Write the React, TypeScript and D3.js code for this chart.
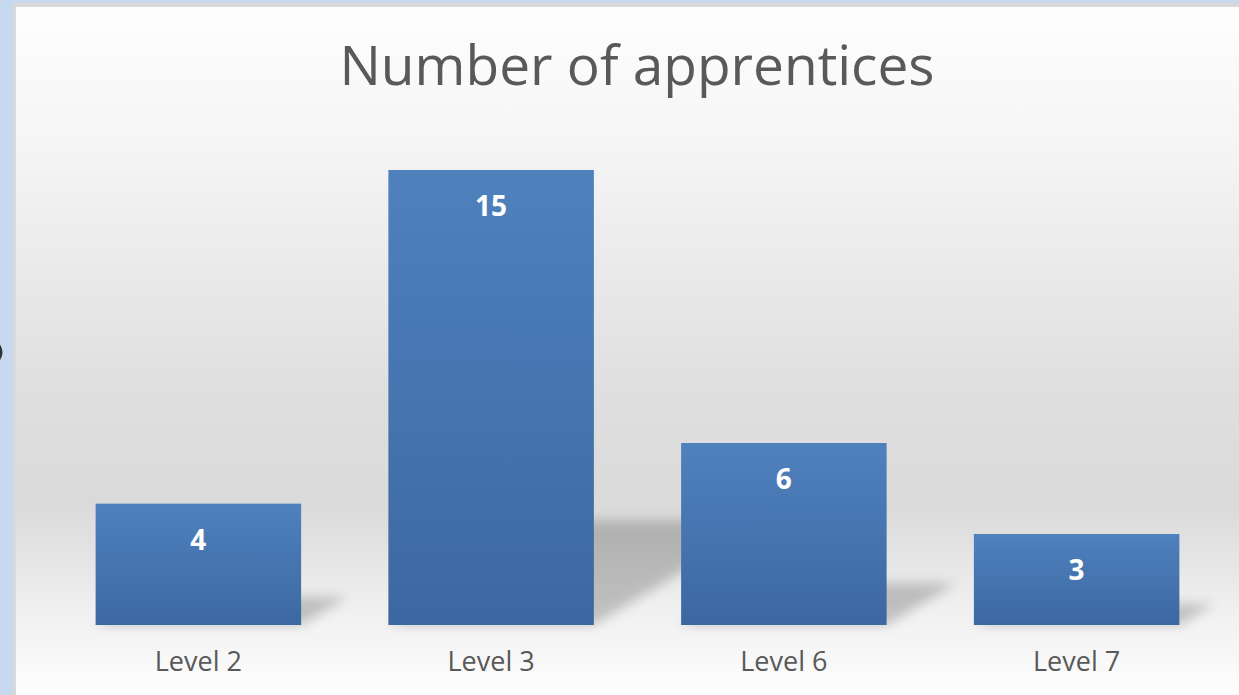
import React from "react";
import * as d3 from "d3";

const categories: string[] = ["Level 2", "Level 3", "Level 6", "Level 7"];
const values: number[] = [4, 15, 6, 3];
const title = "Number of apprentices";

const W = 1239;
const H = 695;

export default function App() {
  const x = d3
    .scaleBand<string>()
    .domain(categories)
    .range([52, 1223])
    .paddingInner(0.298)
    .paddingOuter(0.149);
  const y = d3.scaleLinear().domain([0, 15]).range([625, 170]);
  const base = y(0);
  const font = "'Open Sans', 'Liberation Sans', sans-serif";

  return (
    <svg
      width={W}
      height={H}
      style={{ position: "absolute", left: 0, top: 0, display: "block" }}
    >
      <defs>
        <linearGradient id="bg" x1="0" y1="0" x2="0" y2="1">
          <stop offset="0" stopColor="#fefefe" />
          <stop offset="0.2" stopColor="#f5f5f5" />
          <stop offset="0.55" stopColor="#dfdfdf" />
          <stop offset="0.72" stopColor="#dadada" />
          <stop offset="0.86" stopColor="#efefef" />
          <stop offset="1" stopColor="#ffffff" />
        </linearGradient>
        <linearGradient id="bar" x1="0" y1="0" x2="0" y2="1">
          <stop offset="0" stopColor="#4f81bd" />
          <stop offset="1" stopColor="#3c68a2" />
        </linearGradient>
        <filter id="blur" x="-50%" y="-50%" width="200%" height="200%">
          <feGaussianBlur stdDeviation="6" />
        </filter>
      </defs>
      <rect x={0} y={0} width={W} height={H} fill="#c7d9ef" />
      <rect x={13} y={3} width={W} height={H} fill="#d9d9d9" />
      <rect x={16} y={7} width={W} height={H} fill="url(#bg)" />
      <path
        d="M-3,343 Q5,352 -3,362"
        fill="none"
        stroke="#333"
        strokeWidth={3}
      />
      <text
        x={637}
        y={85}
        textAnchor="middle"
        fontFamily={font}
        fontSize={55}
        fill="#595959"
      >
        {title}
      </text>
      {categories.map((c, i) => {
        const x0 = x(c)!;
        const bw = x.bandwidth();
        const top = y(values[i]);
        const h = base - top;
        const sh = h * 0.23;
        const sx = h * 0.38;
        const pts = [
          [x0, base],
          [x0 + bw, base],
          [x0 + bw + sx, base - sh],
          [x0 + sx, base - sh],
        ]
          .map((p) => p.join(","))
          .join(" ");
        return (
          <g key={c}>
            <polygon points={pts} fill="#000" opacity={0.2} filter="url(#blur)" />
            <rect x={x0} y={top} width={bw} height={h} fill="url(#bar)" />
            <text
              x={x0 + bw / 2}
              y={top + 46}
              textAnchor="middle"
              fontFamily={font}
              fontSize={28}
              fontWeight="bold"
              fill="#ffffff"
            >
              {values[i]}
            </text>
            <text
              x={x0 + bw / 2}
              y={671}
              textAnchor="middle"
              fontFamily={font}
              fontSize={27}
              fill="#595959"
            >
              {c}
            </text>
          </g>
        );
      })}
    </svg>
  );
}
